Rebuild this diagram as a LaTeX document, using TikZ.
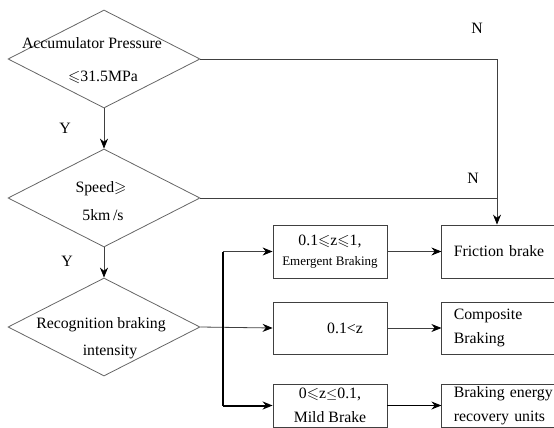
\documentclass[tikz,border=0pt]{standalone}
\usepackage{amssymb}
\usepackage{fontspec}
\setmainfont{Liberation Serif}
\usetikzlibrary{shapes.geometric, positioning, arrows.meta}

\tikzset{
  decision/.style={diamond, draw=black!60, line width=0.8pt, minimum width=192pt, minimum height=98pt, inner sep=0pt},
  block/.style={rectangle, draw=black!75, line width=0.8pt, minimum width=114pt, inner sep=0pt, align=center},
  result/.style={rectangle, draw=black!75, line width=0.8pt, minimum width=125pt, text width=101pt, inner xsep=12pt, inner ysep=0pt, align=left},
  txt/.style={inner sep=0pt},
  line/.style={draw=black!75, line width=0.8pt},
  flow/.style={line, -{Stealth[length=10pt, width=8pt, black]}},
  bus/.style={draw=black, line width=2pt},
}

\begin{document}
\begin{tikzpicture}[x=1pt, y=-1pt, font=\fontsize{15.8}{24}\selectfont]
  \useasboundingbox (0,0) rectangle (554,428);
  \clip (0,0) rectangle (554,428);

  % decisions
  \node[decision] (acc) at (104,59) {};
  \node[decision] (speed) at (104,198) {};
  \node[decision] (recog) at (104,327) {};

  \node[txt] (accA) at (92,43) {Accumulator Pressure};
  \node[txt] (accB) at (103,77) {$\leqslant$31.5MPa};
  \node[txt] (speedA) at (101,189) {Speed$\geqslant$};
  \node[txt] (speedB) at (103,215) {5km\,/s};
  \node[txt] (recogA) at (101,325) {Recognition braking};
  \node[txt] (recogB) at (110,352) {intensity};

  \node[txt] (yes1) at (65,128) {Y};
  \node[txt] (yes2) at (67,261) {Y};
  \node[txt] (no1) at (477,28) {N};
  \node[txt] (no2) at (473,178) {N};

  % intensity ranges
  \node[block, minimum height=53pt] (emerg) at (330,251.5)
    {0.1$\leqslant$z$\leqslant$1,\\[-4pt]{\fontsize{13}{15}\selectfont Emergent Braking}};
  \node[block, minimum height=52pt, label={[xshift=15pt]center:0.1<z}] (mid) at (330,328) {};
  \node[block, minimum height=43pt] (mild) at (330,405.5)
    {0$\leqslant$z$\leq$0.1,\\Mild Brake};

  % braking modes
  \node[result, minimum height=53pt, right=54pt of emerg] (fric) {Friction brake};
  \node[result, minimum height=52pt, right=54pt of mid] (comp) {Composite\\Braking};
  \node[result, minimum height=43pt, right=54pt of mild] (regen) {Braking energy\\recovery units};

  \coordinate (join) at (497,0);
  \coordinate (busx) at (223,0);

  \draw[flow] (acc.east) -| (fric.north -| join);
  \draw[line] (speed.east) -- (speed.east -| join);
  \draw[flow] (acc.south) -- (speed.north);
  \draw[flow] (speed.south) -- (recog.north);
  \draw[flow] (recog.east) -- (mid.west);

  \draw[bus] (emerg.west -| busx) -- (mild.west -| busx);
  \draw[flow] (emerg.west -| busx) -- (emerg.west);
  \draw[flow, bus] (mild.west -| busx) -- (mild.west);

  \draw[flow] (emerg) -- (fric);
  \draw[flow] (mid) -- (comp);
  \draw[flow, line width=1.5pt, draw=black] (mild) -- (regen);
\end{tikzpicture}
\end{document}
